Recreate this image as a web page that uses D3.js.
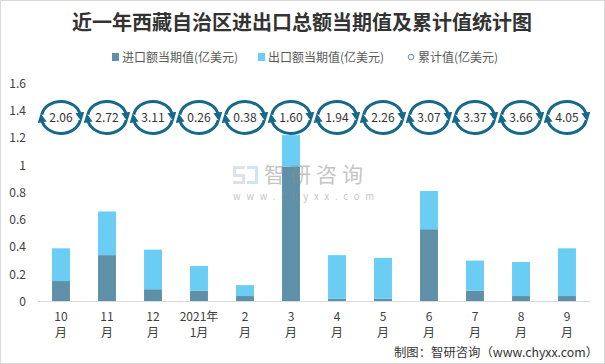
<!DOCTYPE html>
<html><head><meta charset="utf-8">
<script src="https://cdn.jsdelivr.net/npm/d3@7"></script>
<style>body{margin:0;background:#fff}svg{display:block}</style>
</head><body><svg id="c" width="605" height="364"></svg>
<script>
const monthTop = ["10","11","12","2021年","2","3","4","5","6","7","8","9"];
const monthBottom = ["月","月","月","1月","月","月","月","月","月","月","月","月"];
const importVals = [0.15,0.34,0.09,0.08,0.04,0.99,0.02,0.02,0.53,0.08,0.04,0.04];
const exportVals = [0.24,0.32,0.29,0.18,0.08,0.23,0.32,0.30,0.28,0.22,0.25,0.35];
const cumulative = ["2.06","2.72","3.11","0.26","0.38","1.60","1.94","2.26","3.07","3.37","3.66","4.05"];
const yTicks = [0,0.2,0.4,0.6,0.8,1,1.2,1.4,1.6];
const cumRowLevel = 1.35;

const svg = d3.select("#c");
const font = "'Microsoft YaHei','Noto Sans CJK SC','Noto Sans',sans-serif";
const cImp = "#5e91a8", cExp = "#6acdf4", cArrow = "#17698c";

svg.append("rect").attr("x",0.5).attr("y",0.5).attr("width",604).attr("height",363)
  .attr("fill","#fff").attr("stroke","#d9d9d9");

svg.append("text").attr("x",302).attr("y",30).attr("text-anchor","middle")
  .attr("font-family","'Noto Sans CJK SC',serif").attr("font-weight","bold")
  .attr("font-size",20).attr("fill","#333").text("近一年西藏自治区进出口总额当期值及累计值统计图");

// legend
const lg = svg.append("g").attr("font-family",font).attr("font-size",12).attr("fill","#595959");
lg.append("rect").attr("x",112).attr("y",53).attr("width",7).attr("height",8).attr("fill",cImp);
lg.append("text").attr("x",122).attr("y",61.5).text("进口额当期值(亿美元)");
lg.append("rect").attr("x",258).attr("y",53).attr("width",7).attr("height",8).attr("fill",cExp);
lg.append("text").attr("x",268).attr("y",61.5).text("出口额当期值(亿美元)");
lg.append("circle").attr("cx",411).attr("cy",57).attr("r",2.8).attr("fill","none").attr("stroke","#6b8fa8").attr("stroke-width",1);
lg.append("text").attr("x",418).attr("y",61.5).text("累计值(亿美元)");

const x = d3.scaleBand().domain(d3.range(12)).range([38,590]).paddingInner(0.61).paddingOuter(0.305);
const y = d3.scaleLinear().domain([0,1.6]).range([301.5,83.3]);

// y axis labels
svg.append("g").selectAll("text").data(yTicks).join("text")
  .attr("x",26).attr("y",d=>y(d)+4.5).attr("text-anchor","end")
  .attr("font-family",font).attr("font-size",12).attr("fill","#404040")
  .text(d=>d3.format("~g")(d));

// bars
const g = svg.append("g");
g.selectAll(".imp").data(importVals).join("rect")
  .attr("x",(d,i)=>x(i)).attr("width",x.bandwidth())
  .attr("y",d=>y(d)).attr("height",d=>y(0)-y(d)).attr("fill",cImp);
g.selectAll(".exp").data(exportVals).join("rect")
  .attr("x",(d,i)=>x(i)).attr("width",x.bandwidth())
  .attr("y",(d,i)=>y(d+importVals[i])).attr("height",d=>y(0)-y(d)).attr("fill",cExp);

// axis line
svg.append("line").attr("x1",38).attr("x2",590).attr("y1",301.5).attr("y2",301.5)
  .attr("stroke","#d9d9d9").attr("stroke-width",1);

// x labels
const xl = svg.append("g").attr("font-family",font).attr("font-size",12).attr("fill","#404040").attr("text-anchor","middle");
xl.selectAll(".t1").data(monthTop).join("text").attr("x",(d,i)=>x(i)+x.bandwidth()/2).attr("y",321).text(d=>d);
xl.selectAll(".t2").data(monthBottom).join("text").attr("x",(d,i)=>x(i)+x.bandwidth()/2).attr("y",337).text(d=>d);

// watermark
const wm = svg.append("g").attr("opacity",0.5);
wm.append("path").attr("d","M233,166 h12 v3 h-9 v5 h9 v10 h-12 v-3 h9 v-4 h-9 z").attr("fill","#b8c4dc");
wm.append("path").attr("d","M247,166 h11 v18 h-11 v-3 h8 v-12 h-8 z").attr("fill","#a8cde8");
wm.append("text").attr("x",264).attr("y",182).attr("font-family",font).attr("font-size",21)
  .attr("fill","#8c8c8c").attr("letter-spacing",5).text("智研咨询");
wm.append("text").attr("x",233).attr("y",200).attr("font-family",font).attr("font-size",9.5)
  .attr("fill","#8c8c8c").attr("letter-spacing",5.8).text("www.chyxx.com");

// cumulative circles
const defs = svg.append("defs");
defs.append("marker").attr("id","ah").attr("viewBox","0 0 10 10").attr("refX",3).attr("refY",5)
  .attr("markerWidth",9).attr("markerHeight",9).attr("markerUnits","userSpaceOnUse").attr("orient","auto")
  .append("path").attr("d","M0,0 L10,5 L0,10 Z").attr("fill",cArrow);
const rx = 19.5, ry = 16;
const pt = (cx,cy,deg)=>[cx+rx*Math.cos(deg*Math.PI/180), cy-ry*Math.sin(deg*Math.PI/180)];
const cg = svg.append("g");
cumulative.forEach((v,i)=>{
  const cx = x(i)+x.bandwidth()/2, cy = y(cumRowLevel);
  const a = pt(cx,cy,170), b = pt(cx,cy,8);
  const c = pt(cx,cy,-10), d = pt(cx,cy,-172);
  cg.append("path").attr("d",`M${a[0]},${a[1]} A${rx},${ry} 0 0 1 ${b[0]},${b[1]}`)
    .attr("fill","none").attr("stroke",cArrow).attr("stroke-width",3).attr("marker-end","url(#ah)");
  cg.append("path").attr("d",`M${c[0]},${c[1]} A${rx},${ry} 0 0 1 ${d[0]},${d[1]}`)
    .attr("fill","none").attr("stroke",cArrow).attr("stroke-width",3).attr("marker-end","url(#ah)");
  cg.append("text").attr("x",cx).attr("y",cy+4.5).attr("text-anchor","middle")
    .attr("font-family",font).attr("font-size",12).attr("fill","#333").text(v);
});

// source
svg.append("text").attr("x",598).attr("y",357).attr("text-anchor","end")
  .attr("font-family",font).attr("font-size",12).attr("fill","#333")
  .attr("textLength",204).attr("lengthAdjust","spacingAndGlyphs")
  .text("制图：智研咨询（www.chyxx.com）");
</script></body></html>
